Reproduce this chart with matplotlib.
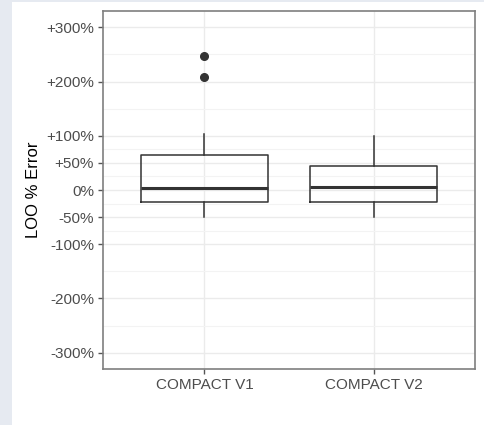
import numpy as np
import matplotlib.pyplot as plt
from matplotlib.patches import Rectangle

# ---------------- DATA ----------------
categories = ["COMPACT V1", "COMPACT V2"]
# box statistics in fraction units (1.0 = +100%)
q1       = [-0.22, -0.22]
medians  = [0.04, 0.05]
q3       = [0.64, 0.44]
wlo      = [-0.49, -0.49]
whi      = [1.04, 1.00]
outliers = [[2.47, 2.08], []]

y_ticks  = [3.0, 2.0, 1.0, 0.5, 0.0, -0.5, -1.0, -2.0, -3.0]
y_labels = ["+300%", "+200%", "+100%", "+50%", "0%", "-50%", "-100%", "-200%", "-300%"]
y_minor  = [2.5, 1.5, 0.75, 0.25, -0.25, -0.75, -1.5, -2.5]

# ---------------- STYLE ----------------
plt.rcParams['font.family'] = ['Liberation Sans', 'DejaVu Sans']
STRIP = "#e6eaf1"
LINE  = "#333333"
GRID  = "#ebebeb"

fig = plt.figure(figsize=(4.85, 4.25), dpi=100)
fig.patch.set_facecolor("white")
# light strip on the left and top of the canvas
fig.patches.append(Rectangle((0, 0), 12/485, 1, transform=fig.transFigure,
                             facecolor=STRIP, edgecolor="none", zorder=0))
fig.patches.append(Rectangle((0, 1 - 2/425), 1, 2/425, transform=fig.transFigure,
                             facecolor=STRIP, edgecolor="none", zorder=0))

ax = fig.add_axes([103/485, 1 - 369/425, 372/485, 358/425])
ax.set_facecolor("white")

stats = []
for i, name in enumerate(categories):
    stats.append(dict(label=name, med=medians[i], q1=q1[i], q3=q3[i],
                      whislo=wlo[i], whishi=whi[i], fliers=outliers[i]))

ax.bxp(stats, positions=[1, 2], widths=0.75, showcaps=False, patch_artist=False,
       boxprops=dict(color=LINE, linewidth=1.1),
       whiskerprops=dict(color=LINE, linewidth=1.1),
       medianprops=dict(color=LINE, linewidth=2.2),
       flierprops=dict(marker='o', markerfacecolor=LINE, markeredgecolor=LINE,
                       markersize=5.5, linestyle='none'),
       zorder=3)

ax.set_xlim(0.4, 2.6)
ax.set_ylim(-3.3, 3.3)

ax.set_yticks(y_ticks)
ax.set_yticklabels(y_labels)
ax.set_yticks(y_minor, minor=True)
ax.set_xticks([1, 2])
ax.set_xticklabels(categories)

ax.grid(True, which='major', color=GRID, linewidth=1.0, zorder=0)
ax.grid(True, which='minor', axis='y', color="#f3f3f3", linewidth=0.8, zorder=0)
ax.set_axisbelow(True)

ax.tick_params(axis='both', which='major', length=3.5, width=1.0, color="#555555",
               labelcolor="#4d4d4d", labelsize=11, pad=3)
ax.tick_params(axis='y', which='minor', length=0)

for sp in ax.spines.values():
    sp.set_color("#7f7f7f")
    sp.set_linewidth(1.2)

ax.set_ylabel("LOO % Error", fontsize=12, color="black", labelpad=4)

fig.savefig("out.png", dpi=100)
